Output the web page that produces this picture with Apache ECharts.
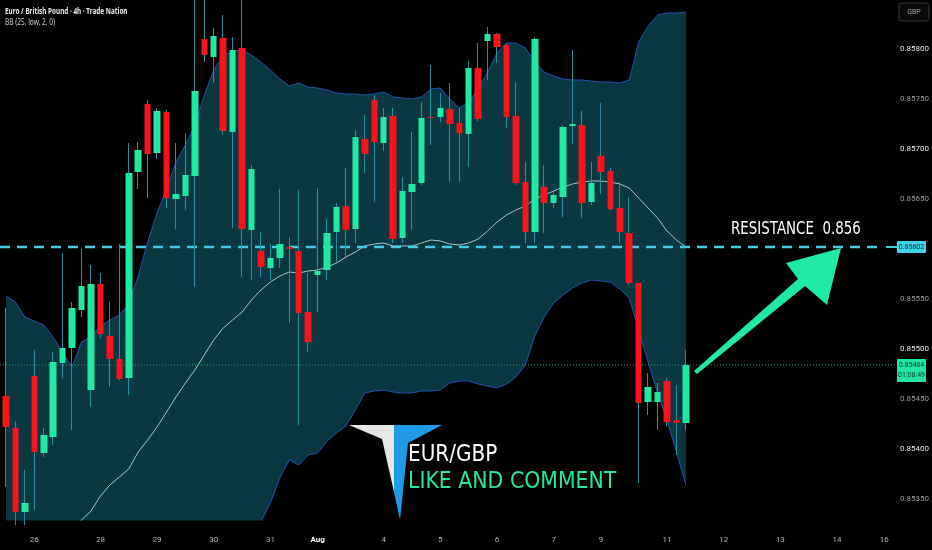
<!DOCTYPE html>
<html><head><meta charset="utf-8">
<script src="https://cdn.jsdelivr.net/npm/echarts@6/dist/echarts.min.js"></script>
<style>html,body{margin:0;padding:0;background:#000;}#c{width:932px;height:550px;}</style>
</head><body><div id="c"></div>
<script>
// ---- data ----
const openP  = [0.85453,0.85421,0.85337,0.85473,0.85396,0.85412,0.85486,0.85501,0.85539,0.85459,
0.85565,0.85513,0.85490,0.85471,0.85677,0.85745,0.85696,0.85737,0.85650,0.85653,
0.85673,0.85810,0.85792,0.85811,0.85717,0.85801,0.85619,0.85598,0.85581,0.85591,
0.85602,0.85598,0.85537,0.85574,0.85579,0.85617,0.85643,0.85620,0.85710,0.85749,
0.85706,0.85733,0.85611,0.85657,0.85666,0.85732,0.85732,0.85740,0.85726,0.85715,
0.85781,0.85808,0.85815,0.85804,0.85733,0.85667,0.85617,0.85662,0.85646,0.85652,
0.85723,0.85724,0.85647,0.85693,0.85678,0.85641,0.85616,0.85566,0.85447,0.85447,
0.85468,0.85429,0.85426];
const closeP = [0.85422,0.85337,0.85346,0.85397,0.85414,0.85487,0.85501,0.85541,0.85563,0.85565,
0.85515,0.85490,0.85470,0.85676,0.85699,0.85695,0.85738,0.85651,0.85655,0.85674,
0.85758,0.85794,0.85813,0.85718,0.85799,0.85620,0.85680,0.85582,0.85591,0.85605,
0.85600,0.85536,0.85507,0.85578,0.85616,0.85642,0.85619,0.85712,0.85695,0.85707,
0.85732,0.85610,0.85658,0.85665,0.85731,0.85731,0.85741,0.85725,0.85716,0.85781,
0.85730,0.85815,0.85802,0.85732,0.85666,0.85617,0.85810,0.85646,0.85654,0.85722,
0.85725,0.85646,0.85666,0.85677,0.85640,0.85617,0.85566,0.85446,0.85462,0.85457,
0.85427,0.85426,0.85484];
const lowP   = [0.85362,0.85324,0.85324,0.85339,0.85392,0.85404,0.85471,0.85419,0.85532,0.85442,
0.85511,0.85462,0.85469,0.85454,0.85660,0.85651,0.85690,0.85641,0.85620,0.85639,
0.85562,0.85787,0.85766,0.85714,0.85621,0.85572,0.85569,0.85572,0.85569,0.85581,
0.85526,0.85424,0.85497,0.85537,0.85569,0.85587,0.85592,0.85606,0.85676,0.85647,
0.85698,0.85606,0.85606,0.85619,0.85664,0.85704,0.85727,0.85667,0.85667,0.85682,
0.85728,0.85769,0.85786,0.85721,0.85664,0.85606,0.85606,0.85616,0.85641,0.85632,
0.85705,0.85631,0.85644,0.85655,0.85639,0.85606,0.85564,0.85366,0.85434,0.85419,
0.85423,0.85394,0.85419];
const highP  = [0.85541,0.85428,0.85379,0.85499,0.85421,0.85497,0.85596,0.85547,0.85600,0.85584,
0.85576,0.85547,0.85605,0.85706,0.85707,0.85749,0.85741,0.85739,0.85706,0.85716,
0.85854,0.85852,0.85821,0.85834,0.85812,0.85854,0.85684,0.85617,0.85605,0.85660,
0.85612,0.85659,0.85576,0.85661,0.85630,0.85646,0.85681,0.85719,0.85734,0.85754,
0.85741,0.85741,0.85672,0.85717,0.85747,0.85784,0.85756,0.85766,0.85741,0.85788,
0.85806,0.85822,0.85816,0.85806,0.85767,0.85687,0.85812,0.85684,0.85657,0.85724,
0.85799,0.85738,0.85687,0.85746,0.85681,0.85667,0.85652,0.85566,0.85476,0.85466,
0.85471,0.85464,0.85499];
const bbUpper = [0.85553,0.85547,0.85532,0.85528,0.85524,0.85512,0.85496,0.85482,0.85507,0.85512,
0.85523,0.85529,0.85534,0.85545,0.85573,0.85607,0.85636,0.85660,0.85687,0.85704,
0.85724,0.85754,0.85779,0.85793,0.85798,0.85799,0.85794,0.85787,0.85779,0.85770,
0.85763,0.85766,0.85762,0.85761,0.85759,0.85756,0.85755,0.85755,0.85754,0.85755,
0.85757,0.85752,0.85751,0.85750,0.85752,0.85760,0.85761,0.85750,0.85741,0.85747,
0.85760,0.85777,0.85796,0.85806,0.85806,0.85801,0.85787,0.85777,0.85773,0.85770,
0.85769,0.85769,0.85768,0.85767,0.85767,0.85766,0.85769,0.85807,0.85823,0.85834,
0.85836,0.85836,0.85837];
const bbBasis = [0.85249,0.85254,0.85259,0.85267,0.85277,0.85289,0.85301,0.85316,0.85329,0.85338,
0.85353,0.85364,0.85372,0.85380,0.85397,0.85409,0.85422,0.85437,0.85452,0.85466,
0.85479,0.85494,0.85509,0.85521,0.85529,0.85537,0.85549,0.85559,0.85567,0.85573,
0.85577,0.85576,0.85578,0.85579,0.85582,0.85586,0.85592,0.85597,0.85603,0.85605,
0.85606,0.85603,0.85603,0.85603,0.85606,0.85609,0.85608,0.85605,0.85604,0.85606,
0.85610,0.85618,0.85627,0.85634,0.85639,0.85643,0.85650,0.85654,0.85658,0.85662,
0.85665,0.85667,0.85668,0.85668,0.85667,0.85665,0.85661,0.85651,0.85641,0.85631,
0.85618,0.85609,0.85602];
const bbLower = [0.84945,0.84961,0.84986,0.85006,0.85030,0.85066,0.85106,0.85150,0.85151,0.85164,
0.85183,0.85199,0.85210,0.85215,0.85221,0.85211,0.85208,0.85214,0.85217,0.85228,
0.85234,0.85234,0.85239,0.85249,0.85260,0.85275,0.85304,0.85327,0.85346,0.85371,
0.85389,0.85384,0.85394,0.85396,0.85408,0.85416,0.85423,0.85439,0.85456,0.85458,
0.85459,0.85457,0.85456,0.85456,0.85458,0.85458,0.85459,0.85466,0.85468,0.85468,
0.85465,0.85463,0.85461,0.85465,0.85472,0.85484,0.85513,0.85532,0.85546,0.85554,
0.85561,0.85566,0.85569,0.85568,0.85567,0.85560,0.85551,0.85519,0.85487,0.85456,
0.85429,0.85397,0.85364];
const slotCount = 94; // bars plus empty future slots on the time scale
const timeTickIndex = [3,10,16,22,28,33,40,46,52,58,63,70,76,82,88,93];
const timeTickText  = ['26','28','29','30','31','Aug','4','5','6','7','9','11','12','13','14','16'];
const priceTicks = [0.8535,0.854,0.8545,0.855,0.8555,0.8565,0.857,0.8575,0.858];
const resistanceLevel = 0.85602;
const lastPrice = 0.85484;
const countdown = '01:08:49';

// ---- build chart ----
const categories = [];
for (let i = 0; i < slotCount; i++) categories.push(String(i));
const candleFull = openP.map((o, i) => [o, closeP[i], lowP[i], highP[i]]);
const candleBody = openP.map((o, i) => [o, closeP[i], Math.min(o, closeP[i]), Math.max(o, closeP[i])]);
const bandSpan = bbUpper.map((u, i) => +(u - bbLower[i]).toFixed(5));

const UP = '#1fe9a2', DOWN = '#f7141a', WICK = '#2a8f9c', BANDLINE = '#2352b0', BANDFILL = '#093840';

const chart = echarts.init(document.getElementById('c'), null, {renderer: 'canvas'});
chart.setOption({
  animation: false,
  backgroundColor: '#000000',
  grid: {left: 1.27, top: 0, width: 889.05, height: 520, containLabel: false},
  xAxis: {
    type: 'category', data: categories, boundaryGap: true,
    axisLine: {show: false}, axisTick: {show: false}, splitLine: {show: false},
    axisLabel: {
      interval: (idx) => timeTickIndex.indexOf(idx) >= 0,
      formatter: (val) => {
        const k = timeTickIndex.indexOf(+val);
        if (k < 0) return '';
        const t = timeTickText[k];
        return t === 'Aug' ? '{b|' + t + '}' : t;
      },
      margin: 16, color: '#b2b5be', fontSize: 8, fontFamily: 'Roboto',
      rich: {b: {color: '#ffffff', fontWeight: 'bold', fontSize: 8, fontFamily: 'Roboto'}}
    }
  },
  yAxis: {
    type: 'value', position: 'right', min: 0.85329, max: 0.85849, scale: true,
    axisLine: {show: false}, axisTick: {show: false}, splitLine: {show: false},
    axisLabel: {
      customValues: priceTicks,
      margin: 11, fontSize: 8, fontFamily: 'Roboto',
      formatter: (v) => {
        const s = v.toFixed(5);
        return (Math.round(v * 2000) % 2 === 0) ? '{a|' + s + '}' : '{d|' + s + '}';
      },
      rich: {a: {color: '#e6e8ee', fontSize: 8, fontFamily: 'Roboto'}, d: {color: '#9a9ea6', fontSize: 8, fontFamily: 'Roboto'}}
    }
  },
  series: [
    {name: 'lower', type: 'line', data: bbLower, stack: 'bb', symbol: 'none', silent: true,
     lineStyle: {color: BANDLINE, width: 1}, z: 1},
    {name: 'upper', type: 'line', data: bandSpan, stack: 'bb', symbol: 'none', silent: true,
     lineStyle: {color: BANDLINE, width: 1}, areaStyle: {color: BANDFILL, opacity: 1}, z: 1},
    {name: 'basis', type: 'line', data: bbBasis, symbol: 'none', silent: true,
     lineStyle: {color: '#a8c2c4', width: 1}, z: 2},
    {name: 'wick', type: 'candlestick', data: candleFull, barWidth: 1, silent: true, z: 4,
     itemStyle: {color: WICK, color0: WICK, borderColor: WICK, borderColor0: WICK, borderWidth: 1}},
    {name: 'body', type: 'candlestick', data: candleBody, barWidth: 7, silent: true, z: 5,
     itemStyle: {color: UP, color0: DOWN, borderColor: UP, borderColor0: DOWN, borderWidth: 0}}
  ]
});

// price-level lines and their scale tags, placed through the y axis scale
const yR = chart.convertToPixel({yAxisIndex: 0}, resistanceLevel);
const yL = chart.convertToPixel({yAxisIndex: 0}, lastPrice);

chart.setOption({
  graphic: [
    {type: 'line', z: 3, shape: {x1: 0, y1: yL, x2: 897, y2: yL},
     style: {stroke: '#22a37f', lineWidth: 1, lineDash: [1, 2]}},
    {type: 'line', z: 3, shape: {x1: 0, y1: yR, x2: 884, y2: yR},
     style: {stroke: '#45cce3', lineWidth: 2.5, lineDash: [10, 7]}},
    {type: 'line', z: 3, shape: {x1: 886, y1: yR, x2: 897, y2: yR},
     style: {stroke: '#45cce3', lineWidth: 2}},
    {type: 'rect', z: 6, shape: {x: 897, y: yR - 6, width: 29, height: 12, r: 1},
     style: {fill: '#3fd2e8'}},
    {type: 'text', z: 7, x: 911.5, y: yR,
     style: {text: resistanceLevel.toFixed(5), fill: '#06303a', font: '7px Roboto', align: 'center', verticalAlign: 'middle'}},
    {type: 'rect', z: 6, shape: {x: 897, y: yL - 6, width: 29, height: 23, r: 1},
     style: {fill: '#1fe6a0'}},
    {type: 'text', z: 7, x: 911.5, y: yL + 5.5,
     style: {text: lastPrice.toFixed(5) + '\n' + countdown, fill: '#06402c', font: '7px Roboto', lineHeight: 10, align: 'center', verticalAlign: 'middle'}},

    {type: 'text', x: 5, y: 7, scaleX: 0.75, z: 10,
     style: {text: 'Euro / British Pound · 4h · Trade Nation', fill: '#e8e8e8', font: 'bold 8.5px "Noto Sans"', verticalAlign: 'top'}},
    {type: 'text', x: 5, y: 19, scaleX: 0.82, z: 10,
     style: {text: 'BB (25, low, 2, 0)', fill: '#c8c8c8', font: '8px "Noto Sans"', verticalAlign: 'top'}},
    {type: 'rect', z: 10, shape: {x: 899, y: 3, width: 30, height: 18, r: 3},
     style: {fill: '#080808', stroke: '#3a3a3a', lineWidth: 1}},
    {type: 'text', x: 914, y: 12, z: 11,
     style: {text: 'GBP', fill: '#a0a4aa', font: '7px Roboto', align: 'center', verticalAlign: 'middle'}},
    {type: 'text', x: 731, y: 229, scaleX: 0.745, z: 10,
     style: {text: 'RESISTANCE  0.856', fill: '#ffffff', font: '18px "DejaVu Sans"', verticalAlign: 'middle'}},
    {type: 'polygon', z: 10,
     shape: {points: [[694, 371], [798, 279], [786, 263], [841, 248], [827, 305], [805, 286], [697, 374]]},
     style: {fill: '#1fe9a2'}},
    {type: 'polygon', z: 10,
     shape: {points: [[349, 425], [394, 425], [394, 492], [382, 439]]}, style: {fill: '#e6e6e6'}},
    {type: 'polygon', z: 10,
     shape: {points: [[394, 425], [442, 425], [408, 443], [400, 520], [394, 492]]}, style: {fill: '#1d9be6'}},
    {type: 'text', x: 408, y: 455, scaleX: 0.87, z: 10,
     style: {text: 'EUR/GBP', fill: '#ffffff', font: '23px "DejaVu Sans"', verticalAlign: 'middle'}},
    {type: 'text', x: 408, y: 482, scaleX: 0.89, z: 10,
     style: {text: 'LIKE AND COMMENT', fill: '#27e59c', font: '23px "DejaVu Sans"', verticalAlign: 'middle'}}
  ]
});
</script>
</body></html>
